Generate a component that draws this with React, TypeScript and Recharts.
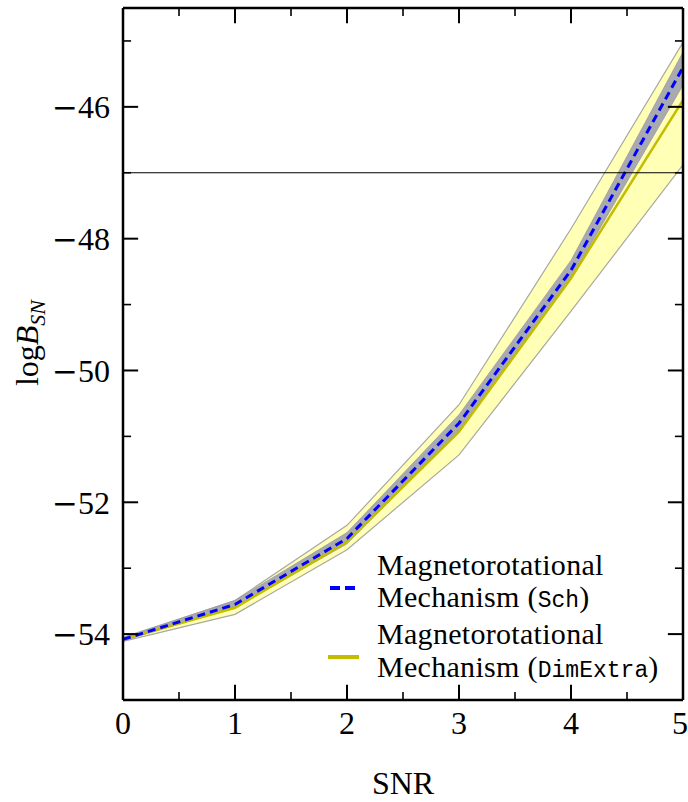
import React from 'react';
import { ComposedChart, Area, Line, XAxis, YAxis, ReferenceLine, Legend } from 'recharts';

// ---- data ----
const snr = [0, 1, 2, 3, 4, 5];
const schMean = [-54.08, -53.55, -52.55, -50.8, -48.48, -45.4];
const schLow = [-54.1, -53.6, -52.63, -50.92, -48.6, -45.67];
const schHigh = [-54.06, -53.49, -52.46, -50.67, -48.33, -45.17];
const dimMean = [-54.08, -53.6, -52.6, -50.93, -48.6, -45.9];
const dimLow = [-54.11, -53.7, -52.72, -51.28, -49.1, -46.88];
const dimHigh = [-54.05, -53.49, -52.35, -50.52, -47.85, -45.02];

const xTicks = [0, 1, 2, 3, 4, 5];
const xMinorTicks = [0.5, 1.5, 2.5, 3.5, 4.5];
const yTicks = [-54, -52, -50, -48, -46];
const yMinorTicks = [-53, -51, -49, -47, -45];
const xDomain: [number, number] = [0, 5];
const yDomain: [number, number] = [-55, -44.5];
const thresholdLevel = -47;

const legendLabels = [
  { first: 'Magnetorotational', second: 'Mechanism (', code: 'Sch' },
  { first: 'Magnetorotational', second: 'Mechanism (', code: 'DimExtra' },
];

const data = snr.map((s, i) => ({
  snr: s,
  schMean: schMean[i],
  schBand: [schLow[i], schHigh[i]],
  dimMean: dimMean[i],
  dimBand: [dimLow[i], dimHigh[i]],
}));

const SERIF = '"Liberation Serif", "Times New Roman", serif';
const MINUS_FONT = '"DejaVu Serif", serif';
const MONO = '"Liberation Mono", "DejaVu Sans Mono", monospace';
const BLUE = '#0000ff';
const OLIVE = '#c4bc00';

// inward tick lengths in data units
const MAJ_Y = 0.23;
const MIN_Y = 0.12;
const MAJ_X = 0.135;
const MIN_X = 0.072;

const YTick = (props: any) => {
  const { x, y, payload } = props;
  const v = payload.value as number;
  return (
    <text x={x} y={y} dy="0.355em" textAnchor="end" fontFamily={SERIF} fontSize={32} fill="#000">
      {v < 0 ? <tspan fontFamily={MINUS_FONT} fontSize={31}>{'\u2212'}</tspan> : null}
      <tspan>{String(Math.abs(v))}</tspan>
    </text>
  );
};

const YLabel = (props: any) => {
  const vb = props.viewBox || { x: 0, y: 0, width: 0, height: 0 };
  const cx = 38;
  const cy = vb.y + vb.height / 2 - 11;
  return (
    <text
      x={cx}
      y={cy}
      transform={`rotate(-90 ${cx} ${cy})`}
      textAnchor="middle"
      fontFamily={SERIF}
      fontSize={32}
      fill="#000"
    >
      log
      <tspan fontStyle="italic">B</tspan>
      <tspan fontStyle="italic" fontSize={22} dy={7}>SN</tspan>
    </text>
  );
};

const XLabel = (props: any) => {
  const vb = props.viewBox || { x: 0, y: 0, width: 0, height: 0 };
  return (
    <text
      x={vb.x + vb.width / 2}
      y={vb.y + 94}
      textAnchor="middle"
      fontFamily={SERIF}
      fontSize={32}
      fill="#000"
    >
      SNR
    </text>
  );
};

const LegendContent = () => (
  <svg width={368} height={150} style={{ display: 'block' }}>
    <line x1={10} x2={36} y1={48} y2={48} stroke={BLUE} strokeWidth={4} strokeDasharray="10 5" />
    <line x1={8} x2={39} y1={117} y2={117} stroke={OLIVE} strokeWidth={4} />
    {legendLabels.map((l, i) => (
      <g key={i} fontFamily={SERIF} fontSize={30} fill="#000" letterSpacing={0.3}>
        <text x={57} y={35 + i * 69}>{l.first}</text>
        <text x={57} y={67 + i * 70}>
          {l.second}
          <tspan fontFamily={MONO} fontSize={23} letterSpacing={0}>{l.code}</tspan>
          )
        </text>
      </g>
    ))}
  </svg>
);

export default function App() {
  const tickStyle = { fontFamily: SERIF, fontSize: 32, fill: '#000' };
  const axisLine = { stroke: '#000', strokeWidth: 2.5 };
  return (
    <div style={{ position: 'absolute', left: 0, top: 0, width: 688, height: 802, background: '#fff' }}>
      <ComposedChart
        width={688}
        height={802}
        data={data}
        margin={{ top: 8, right: 5, left: 0, bottom: 0 }}
      >
        <XAxis
          dataKey="snr"
          type="number"
          domain={xDomain}
          ticks={xTicks}
          allowDataOverflow
          tickLine={false}
          tickSize={0}
          tickMargin={11}
          axisLine={axisLine}
          tick={tickStyle}
          height={102}
          label={XLabel}
        />
        <YAxis
          type="number"
          domain={yDomain}
          ticks={yTicks}
          allowDataOverflow
          tickLine={false}
          tickSize={0}
          tickMargin={13}
          axisLine={axisLine}
          tick={YTick}
          width={123}
          label={YLabel}
        />
        <Area
          type="linear"
          dataKey="dimBand"
          fill="#ffffa8"
          fillOpacity={0.85}
          stroke="#a8a8a0"
          strokeWidth={1.2}
          isAnimationActive={false}
          legendType="none"
        />
        <Area
          type="linear"
          dataKey="schBand"
          fill="#a4a4b0"
          fillOpacity={0.95}
          stroke="#9a9aa0"
          strokeWidth={0.8}
          isAnimationActive={false}
          legendType="none"
        />
        <Line
          type="linear"
          dataKey="dimMean"
          stroke={OLIVE}
          strokeWidth={2.5}
          dot={false}
          isAnimationActive={false}
        />
        <Line
          type="linear"
          dataKey="schMean"
          stroke={BLUE}
          strokeWidth={3}
          strokeDasharray="8 5"
          dot={false}
          isAnimationActive={false}
        />
        <ReferenceLine y={thresholdLevel} stroke="#000" strokeWidth={1.2} />
        <ReferenceLine y={yDomain[1]} stroke="#000" strokeWidth={2.5} />
        <ReferenceLine x={xDomain[1]} stroke="#000" strokeWidth={2.5} />
        {xTicks.map((v) => (
          <ReferenceLine key={'xb' + v} segment={[{ x: v, y: yDomain[0] }, { x: v, y: yDomain[0] + MAJ_Y }]} stroke="#000" strokeWidth={2} ifOverflow="visible" />
        ))}
        {xTicks.map((v) => (
          <ReferenceLine key={'xt' + v} segment={[{ x: v, y: yDomain[1] }, { x: v, y: yDomain[1] - MAJ_Y }]} stroke="#000" strokeWidth={2} ifOverflow="visible" />
        ))}
        {xMinorTicks.map((v) => (
          <ReferenceLine key={'xbm' + v} segment={[{ x: v, y: yDomain[0] }, { x: v, y: yDomain[0] + MIN_Y }]} stroke="#000" strokeWidth={1.6} ifOverflow="visible" />
        ))}
        {xMinorTicks.map((v) => (
          <ReferenceLine key={'xtm' + v} segment={[{ x: v, y: yDomain[1] }, { x: v, y: yDomain[1] - MIN_Y }]} stroke="#000" strokeWidth={1.6} ifOverflow="visible" />
        ))}
        {yTicks.map((v) => (
          <ReferenceLine key={'yl' + v} segment={[{ x: xDomain[0], y: v }, { x: xDomain[0] + MAJ_X, y: v }]} stroke="#000" strokeWidth={2} ifOverflow="visible" />
        ))}
        {yTicks.map((v) => (
          <ReferenceLine key={'yr' + v} segment={[{ x: xDomain[1], y: v }, { x: xDomain[1] - MAJ_X, y: v }]} stroke="#000" strokeWidth={2} ifOverflow="visible" />
        ))}
        {yMinorTicks.map((v) => (
          <ReferenceLine key={'ylm' + v} segment={[{ x: xDomain[0], y: v }, { x: xDomain[0] + MIN_X, y: v }]} stroke="#000" strokeWidth={1.6} ifOverflow="visible" />
        ))}
        {yMinorTicks.map((v) => (
          <ReferenceLine key={'yrm' + v} segment={[{ x: xDomain[1], y: v }, { x: xDomain[1] - MIN_X, y: v }]} stroke="#000" strokeWidth={1.6} ifOverflow="visible" />
        ))}
        <Legend
          layout="vertical"
          align="center"
          verticalAlign="middle"
          content={LegendContent}
          wrapperStyle={{ left: 320, top: 540, width: 368, height: 150 }}
        />
      </ComposedChart>
    </div>
  );
}
